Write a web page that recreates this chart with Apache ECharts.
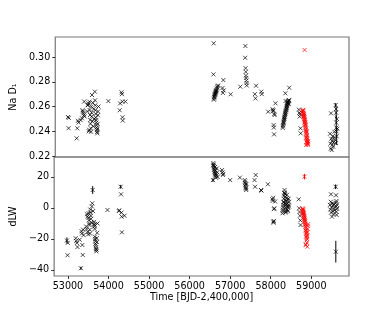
<!DOCTYPE html>
<html><head><meta charset="utf-8">
<script src="https://cdn.jsdelivr.net/npm/echarts@6/dist/echarts.min.js"></script>
<style>html,body{margin:0;padding:0;background:#fff}#c{width:389px;height:311px}</style>
</head><body><div id="c"></div>
<script>
// Black observations: time [BJD-2,400,000], Na D1 index, dLW
const timeBlack = [
  52975,52990,52995,
  53190,53205,53220,53235,53290,
  53320,53335,53345,53355,53365,53375,53385,
  53450,53460,53470,53480,53490,53500,53505,53510,53520,53525,53530,53540,53545,53550,53560,53565,53570,53580,53590,53600,53610,53620,
  53640,53645,53650,53655,53660,53665,53670,53675,53680,53685,53690,53695,53700,53705,53710,53715,53720,53730,
  53975,
  54255,54265,54300,54310,54320,54325,54330,54395,
  56575,56581,56585,56590,56595,56600,56605,56610,56615,56620,56625,56630,56635,56640,56645,56650,56660,56670,56680,56690,
  56800,56810,56820,56830,
  57000,57240,
  57360,57365,57370,57375,57380,57385,57390,57395,57400,
  57600,57615,57630,
  57760,57770,57930,
  58040,58050,58060,58065,58070,58075,58080,58090,58110,
  58290,58295,58300,58305,58310,58315,58320,58325,58330,58335,58340,58345,58350,58355,58360,58365,58370,58375,58380,58385,58390,58395,58400,58405,58410,58415,58420,58425,58430,58440,58450,58355,58360,58451,58440,
  58690,58700,58710,58720,58730,58735,
  59460,59470,59480,59485,59490,59500,59510,59520,59530,59540,59550,59560,59570,59580,59600,59605,59610,59612,59615,59618,59620,59625,59630,59640
];
const naBlack = [
  0.2515,0.2425,0.2508,
  0.2343,0.2424,0.2485,0.2470,0.2490,
  0.2505,0.2570,0.2560,0.2545,0.2530,0.2640,0.2520,
  0.2560,0.2610,0.2612,0.2626,0.2400,0.2412,0.2639,0.2572,0.2531,0.2491,0.2460,0.2424,0.2396,0.2600,0.2550,0.2520,0.2693,0.2480,0.2630,0.2440,0.2580,0.2500,
  0.2720,0.2650,0.2610,0.2570,0.2540,0.2510,0.2490,0.2470,0.2450,0.2430,0.2410,0.2395,0.2383,0.2420,0.2460,0.2530,0.2560,0.2600,
  0.2644,
  0.2570,0.2625,0.2715,0.2700,0.2640,0.2513,0.2487,0.2640,
  0.2860,0.3111,0.2655,0.2665,0.2675,0.2680,0.2690,0.2700,0.2695,0.2705,0.2710,0.2715,0.2720,0.2725,0.2730,0.2735,0.2745,0.2755,0.2765,0.2770,
  0.2750,0.2710,0.2814,0.2730,
  0.2699,0.2760,
  0.2994,0.3089,0.2910,0.2880,0.2850,0.2830,0.2810,0.2790,0.2770,
  0.2700,0.2666,0.2768,
  0.2720,0.2700,0.2558,
  0.2578,0.2563,0.2570,0.2450,0.2430,0.2375,0.2540,0.2531,0.2626,
  0.2427,0.2440,0.2450,0.2462,0.2470,0.2480,0.2490,0.2500,0.2505,0.2515,0.2520,0.2530,0.2540,0.2545,0.2555,0.2560,0.2570,0.2575,0.2585,0.2590,0.2600,0.2605,0.2612,0.2620,0.2625,0.2630,0.2635,0.2640,0.2645,0.2650,0.2652,0.2707,0.2645,0.2752,0.2620,
  0.2575,0.2550,0.2519,0.2540,0.2424,0.2383,
  0.2380,0.2300,0.2260,0.2545,0.2340,0.2248,0.2320,0.2290,0.2360,0.2275,0.2310,0.2350,0.2396,0.2330,0.2612,0.2305,0.2580,0.2550,0.2470,0.2430,0.2400,0.2360,0.2500,0.2420
];
const dlwBlack = [
  -21.0,-30.5,-22.5,
  -19.5,-21.3,-22.6,-25.2,-20.5,
  -38.9,-15.0,-16.5,-23.9,-30.3,-14.0,-17.5,
  -12.0,-13.5,-4.0,-5.5,-15.5,-17.0,-6.5,-3.5,-8.0,-10.0,-11.0,-14.0,-16.5,-1.0,-3.0,-5.0,-7.0,-9.5,1.0,3.0,11.6,-2.0,
  -9.0,-10.5,-12.0,-11.0,-13.5,-18.5,-20.0,-21.5,-23.0,-24.0,-25.5,-26.5,-28.0,-27.0,-19.5,-22.0,-16.0,-10.0,
  -1.3,
  -2.0,-1.5,13.7,8.8,-3.0,-5.6,-15.7,-5.0,
  18.0,27.5,29.0,28.0,27.0,26.0,25.0,24.5,23.5,22.5,21.5,26.5,20.5,24.0,22.0,19.5,21.0,25.5,23.0,20.0,
  24.5,23.0,21.3,22.0,
  18.0,19.6,
  18.0,17.0,16.0,15.0,14.0,13.0,12.5,11.6,15.5,
  18.0,13.7,21.3,
  11.6,11.2,15.3,
  5.6,4.6,6.6,-8.8,-9.5,-8.4,-0.8,-0.2,4.2,
  -3.4,-2.0,-1.0,0.5,2.0,3.5,4.0,6.0,8.0,9.5,11.6,10.0,7.0,5.0,3.0,1.5,0.0,-1.5,-2.5,2.5,4.5,6.5,8.5,1.0,-1.0,3.0,5.5,0.5,-2.0,2.0,4.0,9.0,-3.0,1.0,6.0,
  5.6,-0.2,-2.6,-5.0,-8.0,-11.0,
  2.0,-1.0,4.0,8.8,-3.0,0.5,-5.6,3.0,-2.0,1.5,-4.0,2.5,0.0,-1.5,13.7,-28.2,8.2,3.5,1.0,-2.5,4.5,-4.5,2.0,-0.5
];
// Red observations
const timeRed = [58831,
  58780,58785,58790,58795,58800,58805,58810,58815,58820,58825,58830,58835,58840,58845,58850,58855,58860,58865,58870,58875,58880,58885,58890,58895,58900,58905,58910,58915,58920,
  58790,58800,58810,58820,58830,58840,58850,58860,58870,58880,58890,58900,58860,58870,58880];
const naRed = [0.3057,
  0.2570,0.2560,0.2545,0.2550,0.2535,0.2520,0.2530,0.2510,0.2495,0.2500,0.2480,0.2470,0.2460,0.2440,0.2450,0.2430,0.2410,0.2400,0.2380,0.2390,0.2360,0.2350,0.2330,0.2320,0.2310,0.2300,0.2290,0.2300,0.2320,
  0.2565,0.2572,0.2540,0.2525,0.2515,0.2490,0.2475,0.2455,0.2420,0.2400,0.2370,0.2340,0.2345,0.2289,0.2310];
const dlwRed = [20.2,
  -0.2,-1.0,-2.0,-3.0,-1.5,-4.0,-5.0,-3.5,-6.0,-7.0,-5.5,-8.0,-9.0,-10.0,-8.5,-11.0,-12.0,-13.0,-14.0,-15.0,-16.0,-17.5,-19.0,-20.0,-18.0,-15.5,-13.5,-11.5,-10.5,
  -2.5,-0.8,-3.0,-4.5,-6.5,-7.5,-10.5,-14.5,-18.5,-21.0,-22.5,-25.0,-23.5,-24.0,-16.5];

// Error bars (visible ones)
const naErrTime  = [59600, 59612, 59615, 59625];
const naErrValue = [0.2612, 0.2550, 0.2470, 0.2360];
const naErr      = [0.0016, 0.0050, 0.0060, 0.0070];
const dlwErrTime  = [53610, 59605, 54300, 52975, 53320, 56575, 59600];
const dlwErrValue = [11.6, -28.2, 13.7, -21.0, -38.9, 18.0, 13.7];
const dlwErr      = [2.5, 7.0, 1.2, 2.0, 1.0, 1.2, 1.5];
const dlwErrRedTime = [58831], dlwErrRedValue = [20.2], dlwErrRed = [1.8];

const xTicks = [53000,54000,55000,56000,57000,58000,59000];
const naTicks = [0.22,0.24,0.26,0.28,0.30];
const dlwTicks = [-40,-20,0,20];

const FONT = 'DejaVu Sans';
const xSym = 'path://M0,0L10,10M10,0L0,10';
const pts = (t, v) => t.map((x, i) => [x, v[i]]);
const errs = (t, v, e) => t.map((x, i) => [x, v[i], e[i]]);
const errRender = color => (params, api) => {
  const x = api.value(0), y = api.value(1), e = api.value(2);
  const p1 = api.coord([x, y - e]), p2 = api.coord([x, y + e]);
  return {type: 'line', shape: {x1: p1[0], y1: p1[1], x2: p2[0], y2: p2[1]},
          style: {stroke: color, lineWidth: 1}};
};
const minus = v => (v < 0 ? '\u2212' + Math.abs(v) : String(v));

const chart = echarts.init(document.getElementById('c'), null, {renderer: 'canvas'});
const lbl = {fontFamily: FONT, fontSize: 9.6, color: '#000'};
const xBase = {type: 'value', min: 52660, max: 59930, splitLine: {show: false}, axisLine: {show: false, onZero: false}};
const scatter = (xi, yi, data, color, z) => ({
  type: 'scatter', xAxisIndex: xi, yAxisIndex: yi, data, symbol: xSym, symbolSize: 4, z,
  itemStyle: {color: 'rgba(0,0,0,0)', borderColor: color, borderWidth: 0.9}, silent: true
});
chart.setOption({
  animation: false,
  grid: [
    {left: 49, top: 37, width: 300, height: 120, show: true, borderColor: '#777', borderWidth: 1.2, backgroundColor: 'transparent'},
    {left: 49, top: 157, width: 300, height: 119, show: true, borderColor: '#777', borderWidth: 1.2, backgroundColor: 'transparent'}
  ],
  xAxis: [
    Object.assign({}, xBase, {gridIndex: 0, axisLabel: {show: false}, axisTick: {show: false}}),
    Object.assign({}, xBase, {gridIndex: 1, position: 'bottom',
      name: 'Time [BJD-2,400,000]', nameLocation: 'middle', nameGap: 16,
      nameTextStyle: lbl,
      axisTick: {show: true, length: 3, customValues: xTicks, lineStyle: {color: '#333'}},
      axisLabel: Object.assign({margin: 5, customValues: xTicks, formatter: v => String(v)}, lbl)})
  ],
  yAxis: [
    {type: 'value', gridIndex: 0, min: 0.2192, max: 0.3162, splitLine: {show: false}, axisLine: {show: false, onZero: false},
     name: 'Na D\u2081', nameLocation: 'middle', nameGap: 30, nameTextStyle: lbl,
     axisTick: {show: true, length: 3, customValues: naTicks, lineStyle: {color: '#333'}},
     axisLabel: Object.assign({margin: 5, customValues: naTicks, formatter: v => v.toFixed(2)}, lbl)},
    {type: 'value', gridIndex: 1, min: -43.9, max: 32.9, splitLine: {show: false}, axisLine: {show: false, onZero: false},
     name: 'dLW', nameLocation: 'middle', nameGap: 30, nameTextStyle: lbl,
     axisTick: {show: true, length: 3, customValues: dlwTicks, lineStyle: {color: '#333'}},
     axisLabel: Object.assign({margin: 5, customValues: dlwTicks, formatter: minus}, lbl)}
  ],
  series: [
    {type: 'custom', xAxisIndex: 0, yAxisIndex: 0, renderItem: errRender('#000'), data: errs(naErrTime, naErrValue, naErr), z: 3, silent: true},
    scatter(0, 0, pts(timeBlack, naBlack), '#000', 4),
    scatter(0, 0, pts(timeRed, naRed), '#ff0000', 5),
    {type: 'custom', xAxisIndex: 1, yAxisIndex: 1, renderItem: errRender('#000'), data: errs(dlwErrTime, dlwErrValue, dlwErr), z: 3, silent: true},
    {type: 'custom', xAxisIndex: 1, yAxisIndex: 1, renderItem: errRender('#ff0000'), data: errs(dlwErrRedTime, dlwErrRedValue, dlwErrRed), z: 3, silent: true},
    scatter(1, 1, pts(timeBlack, dlwBlack), '#000', 4),
    scatter(1, 1, pts(timeRed, dlwRed), '#ff0000', 5)
  ]
});
</script></body></html>
